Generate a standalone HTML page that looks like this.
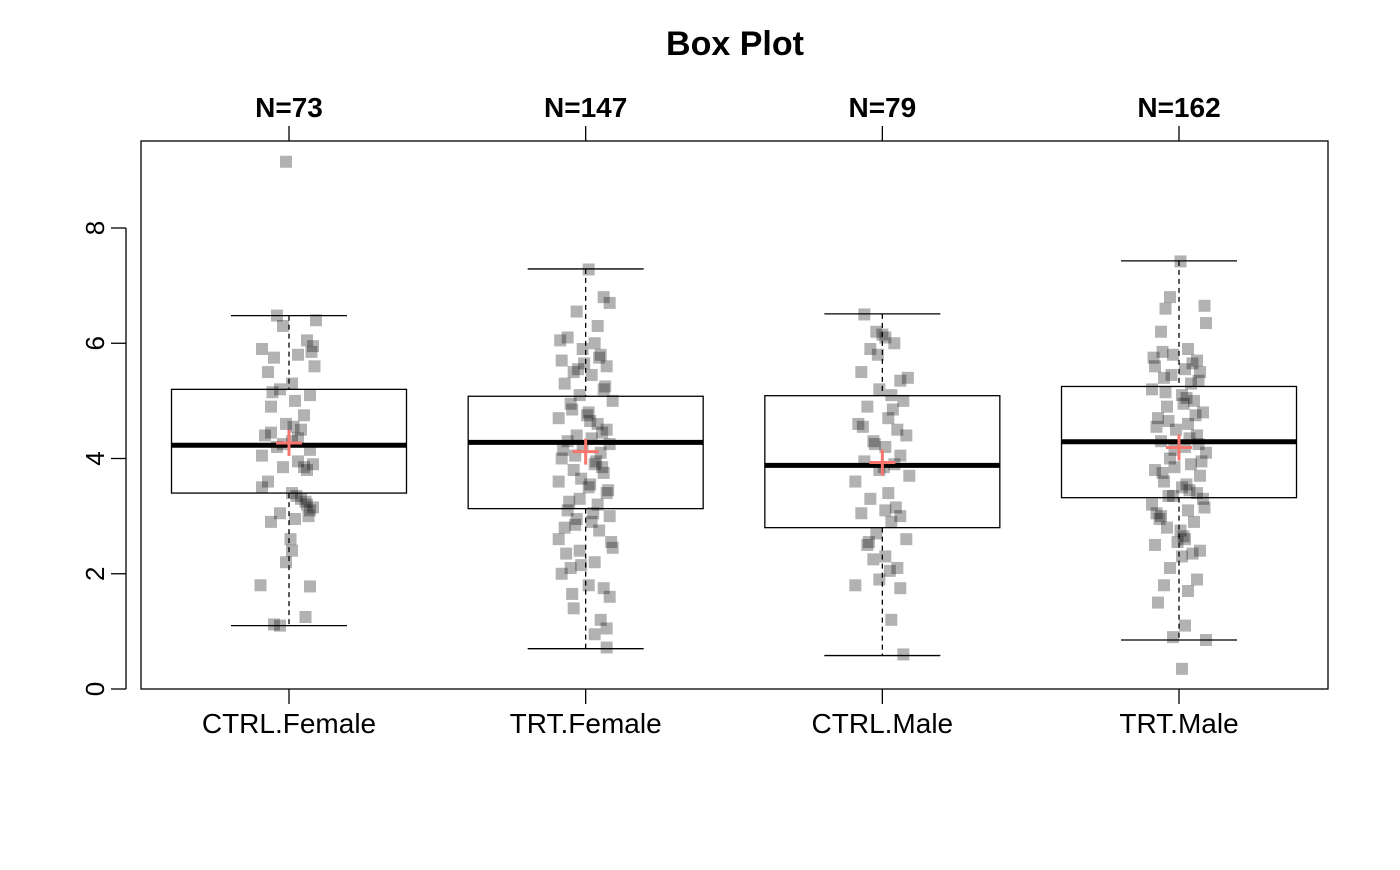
<!DOCTYPE html>
<html><head><meta charset="utf-8"><style>
body{margin:0;background:#fff}
svg text{font-family:"Liberation Sans",sans-serif}
</style></head><body>
<svg id="chart" width="1400" height="865" xmlns="http://www.w3.org/2000/svg">
<rect width="1400" height="865" fill="#fff"/>
<text x="735" y="55" font-size="34" font-weight="bold" text-anchor="middle">Box Plot</text>
<g id="axes"></g><g id="pts"></g><g id="boxes"></g>
<rect x="141" y="141" width="1187" height="548" fill="none" stroke="#000" stroke-width="1.3"/>
</svg>
<script>
const categories=["CTRL.Female","TRT.Female","CTRL.Male","TRT.Male"];
const counts=[73,147,79,162];
const whiskLo=[1.1,0.7,0.58,0.85];
const q1=[3.4,3.13,2.8,3.32];
const medians=[4.23,4.28,3.88,4.29];
const q3=[5.2,5.08,5.09,5.25];
const whiskHi=[6.48,7.29,6.51,7.43];
const means=[4.27,4.12,3.93,4.19];
const yTicks=[0,2,4,6,8];
const pts0=[9.15,6.48,6.4,6.3,6.05,5.95,5.9,5.8,5.75,5.6,5.5,5.3,5.2,5.1,5.0,4.9,4.75,4.6,4.5,4.4,4.3,4.2,4.15,4.05,3.95,3.9,3.85,3.8,3.6,3.5,3.4,3.3,3.2,3.15,3.1,3.05,2.95,2.9,2.6,2.4,2.2,1.8,1.78,1.25,1.12,1.1,4.45,4.35,4.25,3.85,3.35,5.85,5.15,4.55,3.25,3.0];
const jit0=[-0.1,-0.4,0.9,-0.2,0.6,0.8,-0.9,0.3,-0.5,0.85,-0.7,0.1,-0.3,0.7,0.2,-0.6,0.5,-0.1,0.4,-0.8,0.1,-0.4,0.7,-0.9,0.3,0.8,-0.2,0.6,-0.7,-0.9,0.1,0.4,0.6,0.8,0.7,-0.3,0.2,-0.6,0.05,0.1,-0.1,-0.95,0.7,0.55,-0.5,-0.3,-0.6,0.3,-0.2,0.5,0.25,0.75,-0.55,0.15,0.55,0.65];
const pts1=[7.28,6.8,6.7,6.55,6.3,6.1,6.0,5.9,5.8,5.7,5.6,5.5,5.45,5.3,5.2,5.1,5.0,4.95,4.8,4.7,4.6,4.5,4.4,4.35,4.3,4.25,4.2,4.1,4.0,3.9,3.8,3.75,3.6,3.5,3.4,3.3,3.2,3.1,3.0,2.95,2.9,2.8,2.6,2.45,2.4,2.2,2.1,2.0,1.8,1.75,1.6,1.4,1.2,1.05,0.95,0.72,6.05,5.75,5.55,5.25,4.85,4.65,4.45,4.15,3.95,3.65,3.45,3.25,3.05,2.85,2.55,2.35,5.65,4.75,4.05,3.85,3.55,2.75,2.15,1.65];
const jit1=[0.1,0.6,0.8,-0.3,0.4,-0.6,0.3,-0.1,0.5,-0.8,0.7,-0.4,0.2,-0.7,0.6,-0.2,0.9,-0.5,0.1,-0.9,0.4,0.7,-0.3,0.2,-0.6,0.8,-0.1,0.5,-0.8,0.3,-0.4,0.6,-0.9,0.1,0.7,-0.2,0.4,-0.6,0.8,-0.3,0.2,-0.7,-0.9,0.9,-0.2,0.3,-0.5,-0.8,0.1,0.6,0.8,-0.4,0.5,0.7,0.3,0.7,-0.85,0.45,-0.25,0.65,-0.45,0.15,0.55,-0.75,0.35,-0.15,0.75,-0.55,0.25,-0.35,0.85,-0.65,-0.05,0.05,-0.35,0.55,0.15,0.45,-0.15,-0.45];
const pts2=[6.5,6.2,6.1,6.0,5.9,5.5,5.4,5.35,5.2,5.1,5.0,4.9,4.7,4.6,4.5,4.4,4.3,4.2,4.05,3.95,3.9,3.8,3.7,3.6,3.4,3.3,3.1,3.05,3.0,2.9,2.7,2.6,2.5,2.3,2.25,2.1,1.9,1.8,1.75,1.2,0.6,6.15,5.8,4.85,4.25,3.85,3.15,2.55,2.05,4.55];
const jit2=[-0.6,-0.2,0.1,0.4,-0.4,-0.7,0.85,0.6,-0.1,0.3,0.7,-0.5,0.2,-0.8,0.5,0.8,-0.3,0.1,0.6,-0.6,0.4,-0.1,0.9,-0.9,0.2,-0.4,0.1,-0.7,0.6,0.3,-0.2,0.8,-0.5,0.1,-0.3,0.5,-0.1,-0.9,0.6,0.3,0.7,0.0,-0.15,0.35,-0.25,0.05,0.45,-0.45,0.25,-0.65];
const pts3=[7.42,6.8,6.65,6.6,6.35,6.2,5.9,5.8,5.7,5.6,5.55,5.5,5.4,5.3,5.2,5.1,5.0,4.9,4.8,4.7,4.6,4.5,4.4,4.3,4.2,4.1,4.0,3.9,3.8,3.7,3.6,3.5,3.4,3.35,3.3,3.2,3.1,3.0,2.9,2.8,2.6,2.5,2.4,2.3,2.1,1.9,1.8,1.7,1.5,1.1,0.9,0.85,0.35,5.75,5.65,5.45,5.35,5.15,4.95,4.75,4.55,4.35,4.15,3.95,3.75,3.55,3.35,3.15,2.95,2.75,2.55,2.35,5.85,5.05,4.65,4.25,3.85,3.45,3.05,2.65];
const jit3=[0.05,-0.3,0.85,-0.45,0.9,-0.6,0.3,-0.2,0.6,-0.8,0.2,0.7,-0.5,0.4,-0.9,0.1,0.5,-0.4,0.8,-0.7,0.3,-0.1,0.6,-0.6,0.2,0.9,-0.3,0.4,-0.8,0.7,-0.5,0.1,0.6,-0.2,0.8,-0.9,0.3,-0.6,0.5,-0.4,0.2,-0.8,0.7,0.1,-0.3,0.6,-0.5,0.3,-0.7,0.2,-0.2,0.9,0.1,-0.85,0.45,-0.25,0.65,-0.45,0.15,0.55,-0.75,0.35,-0.15,0.75,-0.55,0.25,-0.35,0.85,-0.65,0.05,-0.05,0.45,-0.55,0.25,-0.35,0.65,-0.15,0.35,-0.75,0.15];
const points=[pts0,pts1,pts2,pts3], jitters=[jit0,jit1,jit2,jit3];
const NS="http://www.w3.org/2000/svg";
const y=v=>689-v*57.625;
const x=i=>289+i*296.67;
function mk(tag,attrs,parent){const e=document.createElementNS(NS,tag);for(const k in attrs)e.setAttribute(k,attrs[k]);parent.appendChild(e);return e;}
const axes=document.getElementById('axes'),pts=document.getElementById('pts'),boxes=document.getElementById('boxes');
let l=mk('line',{x1:126,x2:126,y1:y(0),y2:y(8),stroke:'#000','stroke-width':1.3},axes);


yTicks.forEach(t=>{
 const tk=mk('line',{x1:111,x2:126,y1:y(t),y2:y(t),stroke:'#000','stroke-width':1.3},axes);
 
 
 const tx=mk('text',{x:y(t),y:0,'font-size':26,'text-anchor':'middle',transform:`translate(104 ${2*y(t)}) rotate(-90)`},axes);
 tx.setAttribute('x',y(t));
 tx.setAttribute('transform',`rotate(-90 0 0) translate(${-2*y(t)+0} 0)`);
 tx.setAttribute('x',-y(t));
 tx.setAttribute('y',104);
 tx.setAttribute('transform','rotate(-90)');
 tx.textContent=t;
 
 
});
categories.forEach((c,i)=>{
 const cx=x(i);
 const bt=mk('line',{x1:cx,x2:cx,y1:689,y2:704,stroke:'#000','stroke-width':1.3},axes);
 
 
 const bl=mk('text',{x:cx,y:733,'font-size':28,'text-anchor':'middle'},axes);
 bl.textContent=c;
 
 
 const tt=mk('line',{x1:cx,x2:cx,y1:126,y2:141,stroke:'#000','stroke-width':1.3},axes);
 
 
 const nl=mk('text',{x:cx,y:117,'font-size':28,'font-weight':'bold','text-anchor':'middle'},axes);
 nl.textContent='N='+counts[i];
 
 
 points[i].forEach((v,j)=>{
  const r=mk('rect',{x:cx+jitters[i][j]*30-6,y:y(v)-6,width:12,height:12,fill:'rgba(0,0,0,0.3)'},pts);
  
  
 });
 const hw=117.5;
 const g=mk('g',{},boxes);
 
 
 mk('line',{x1:cx,x2:cx,y1:y(whiskHi[i]),y2:y(q3[i]),stroke:'#000','stroke-width':1.3,'stroke-dasharray':'5,4'},g);
 mk('line',{x1:cx,x2:cx,y1:y(q1[i]),y2:y(whiskLo[i]),stroke:'#000','stroke-width':1.3,'stroke-dasharray':'5,4'},g);
 mk('line',{x1:cx-58,x2:cx+58,y1:y(whiskHi[i]),y2:y(whiskHi[i]),stroke:'#000','stroke-width':1.3},g);
 mk('line',{x1:cx-58,x2:cx+58,y1:y(whiskLo[i]),y2:y(whiskLo[i]),stroke:'#000','stroke-width':1.3},g);
 mk('rect',{x:cx-hw,y:y(q3[i]),width:2*hw,height:y(q1[i])-y(q3[i]),fill:'none',stroke:'#000','stroke-width':1.3},g);
 mk('line',{x1:cx-hw,x2:cx+hw,y1:y(medians[i]),y2:y(medians[i]),stroke:'#000','stroke-width':5},g);
 const m=mk('g',{},boxes);
 
 
 mk('line',{x1:cx-13,x2:cx+13,y1:y(means[i]),y2:y(means[i]),stroke:'#F8766D','stroke-width':3},m);
 mk('line',{x1:cx,x2:cx,y1:y(means[i])-13,y2:y(means[i])+13,stroke:'#F8766D','stroke-width':3},m);
});
</script>
</body></html>
